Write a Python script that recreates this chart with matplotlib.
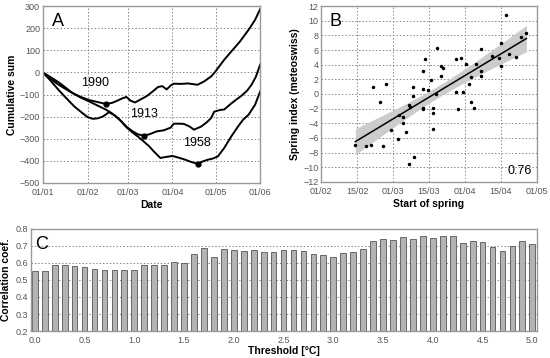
import numpy as np
import matplotlib
matplotlib.use('Agg')
import matplotlib.pyplot as plt

plt.rcParams['font.family'] = ['Liberation Sans', 'DejaVu Sans']

# ---- panel A: cumulative sums (day of year from 01/01)
d1990 = [0, 5, 11, 16, 20.5, 26, 32, 38, 44, 48, 51, 55, 58, 61, 64, 68, 72, 76, 80, 83, 86, 89, 91, 96, 101, 107.5, 112, 117, 120, 126, 131, 137, 143, 147.5, 151]
v1990 = [0, -28, -56, -76, -93, -110, -125, -134, -143, -138, -130, -118, -111, -128, -136, -122, -108, -88, -66, -62, -77, -58, -51, -52, -50, -56, -41, -18, 5, 57, 95, 140, 193, 238, 286]
d1913 = [0, 5, 11, 16, 20.5, 26, 32, 38, 44, 48, 53, 58, 62, 66, 70, 74, 79, 84, 88.7, 91, 95, 98, 102, 105, 110, 114, 117, 119, 123, 126, 131, 135, 138, 142, 145, 148, 151]
v1913 = [0, -20, -45, -70, -93, -113, -131, -150, -169, -185, -212, -245, -265, -280, -286, -280, -267, -262, -250, -232, -232, -233, -245, -259, -245, -225, -206, -178, -170, -168, -140, -120, -106, -82, -56, -20, 35]
d1958 = [0, 5, 11, 16, 22, 27.5, 31, 34.6, 38, 41.6, 46, 50, 54, 58, 62, 66, 70, 74, 77, 81.6, 86, 90, 94, 99, 103, 107.5, 111, 114.5, 118, 121.6, 126, 131, 135.7, 139, 143, 147.5, 151]
v1958 = [0, -35, -80, -115, -155, -184, -202, -210, -208, -200, -180, -195, -218, -248, -270, -290, -312, -335, -357, -387, -382, -378, -385, -395, -405, -413, -403, -395, -390, -380, -342, -289, -244, -215, -191, -146, -86]
min_days = [44, 70, 107.5]
min_vals = [-143, -286, -413]
years = ['1990', '1913', '1958']
year_pos = [(36, -50), (70, -190), (107, -320)]
a_ticks = [0, 31, 59, 90, 120, 151]
a_labels = ['01/01', '01/02', '01/03', '01/04', '01/05', '01/06']

# ---- panel B: start of spring (tick units, 01/02 = 0) vs spring index
b_x = [0.95, 1.24, 1.38, 1.44, 1.65, 1.73, 1.79, 1.93, 2.14, 2.17, 2.29, 2.29, 2.36, 2.43, 2.43, 2.48, 2.55, 2.55,
       2.57, 2.83, 2.84, 2.84, 2.84, 2.90, 2.97, 3.05, 3.11, 3.11, 3.11, 3.19, 3.21, 3.33, 3.40, 3.33, 3.74, 3.74,
       3.81, 3.90, 3.95, 4.02, 4.12, 4.17, 4.17, 4.24, 4.31, 4.45, 4.45, 4.45, 4.74, 4.94, 5.01, 5.01, 5.14, 5.22,
       5.43, 5.57, 5.71]
b_y = [-6.97, -7.15, -6.97, 1.0, -1.13, -7.1, 1.31, -4.93, -6.1, -2.9, -3.1, -3.94, -5.16, -1.5, -9.5, -1.76, 0.95, -0.3,
       -8.64, 3.12, 0.63, -1.95, -2.1, 4.8, 0.5, 1.86, -1.9, -2.58, -4.84, 0.0, 6.33, 3.85, 3.53, 2.4, 4.75, 0.32,
       -2.04, 4.89, 0.32, 4.12, 1.4, 2.3, -1.09, -1.95, 4.12, 6.15, 3.2, 2.4, 5.2, 4.98, 3.85, 7.0, 10.77, 5.48,
       5.11, 7.83, 8.28]
b_labels = ['01/02', '15/02', '01/03', '15/03', '01/04', '15/04', '01/05']
b_r = '0.76'

# ---- panel C: correlation vs threshold
thresh = np.round(np.arange(0, 5.01, 0.1), 1)
corr = [0.550, 0.550, 0.590, 0.590, 0.585, 0.578, 0.567, 0.560, 0.556, 0.560, 0.560,
        0.590, 0.590, 0.590, 0.605, 0.600, 0.655, 0.690, 0.637, 0.680, 0.675,
        0.670, 0.675, 0.665, 0.666, 0.674, 0.676, 0.668, 0.654, 0.646, 0.638,
        0.660, 0.662, 0.682, 0.728, 0.742, 0.736, 0.750, 0.740, 0.760, 0.748,
        0.756, 0.756, 0.720, 0.728, 0.726, 0.696, 0.672, 0.700, 0.728, 0.710]

tick_col = '#555555'
spine_col = '#999999'
grid_kw = dict(color='#888888', linestyle=(0, (1.5, 2)), linewidth=0.7)

fig = plt.figure(figsize=(5.5, 3.58), dpi=100)
axA = fig.add_axes([0.078, 0.489, 0.395, 0.494])
axB = fig.add_axes([0.584, 0.492, 0.392, 0.491])
axC = fig.add_axes([0.056, 0.0754, 0.920, 0.285])

for ax in (axA, axB, axC):
    for s in ax.spines.values():
        s.set_color(spine_col)
        s.set_linewidth(1.0)
    ax.tick_params(length=0, labelsize=6.5, labelcolor=tick_col, pad=2)
    ax.tick_params(axis='x', pad=3.5)
    ax.set_axisbelow(True)

# A
for d, v in [(d1990, v1990), (d1913, v1913), (d1958, v1958)]:
    axA.plot(d, v, color='black', lw=1.4)
axA.plot(min_days, min_vals, 'o', color='black', ms=3.5)
for t, (x, y) in zip(years, year_pos):
    axA.text(x, y, t, fontsize=9, ha='center', va='center')
axA.set_xlim(0, 151)
axA.set_ylim(-500, 300)
axA.set_xticks(a_ticks)
axA.set_xticklabels(a_labels)
axA.set_yticks(range(-500, 301, 100))
axA.grid(True, **grid_kw)
axA.set_xlabel('Date', fontsize=7.5, fontweight='bold', labelpad=2)
axA.set_ylabel('Cumulative sum', fontsize=7.5, fontweight='bold', labelpad=2)
axA.text(0.04, 0.96, 'A', transform=axA.transAxes, fontsize=13, va='top', ha='left')

# B
bx = np.array(b_x)
by = np.array(b_y)
slope, icpt = np.polyfit(bx, by, 1)
xs = np.linspace(bx.min(), bx.max(), 100)
n = len(bx)
resid = by - (slope * bx + icpt)
s = np.sqrt(np.sum(resid ** 2) / (n - 2))
se = s * np.sqrt(1 / n + (xs - bx.mean()) ** 2 / np.sum((bx - bx.mean()) ** 2))
fit = slope * xs + icpt
axB.fill_between(xs, fit - 2.0 * se, fit + 2.0 * se, color='#cccccc', lw=0)
axB.plot(xs, fit, color='black', lw=1.1)
axB.plot(bx, by, 'o', color='black', ms=1.5)
axB.set_xlim(0, 6)
axB.set_ylim(-12, 12)
axB.set_xticks(range(7))
axB.set_xticklabels(b_labels)
axB.set_yticks(range(-12, 13, 2))
axB.grid(True, **grid_kw)
axB.set_xlabel('Start of spring', fontsize=7.5, fontweight='bold', labelpad=2)
axB.set_ylabel('Spring index (meteoswiss)', fontsize=7.5, fontweight='bold', labelpad=2)
axB.text(0.04, 0.96, 'B', transform=axB.transAxes, fontsize=13, va='top', ha='left')
axB.text(0.975, 0.03, b_r, transform=axB.transAxes, fontsize=9, ha='right', va='bottom')

# C
axC.bar(thresh, corr, width=0.058, color='#b3b3b3', edgecolor='#555555', linewidth=0.6)
axC.set_xlim(-0.04, 5.045)
axC.set_ylim(0.2, 0.8)
axC.set_yticks(np.round(np.arange(0.2, 0.81, 0.1), 1))
axC.set_xticks(np.round(np.arange(0, 5.01, 0.5), 1))
axC.set_xticklabels(['%.1f' % t for t in np.arange(0, 5.01, 0.5)])
axC.yaxis.grid(True, **grid_kw)
axC.set_xlabel('Threshold [°C]', fontsize=7.5, fontweight='bold', labelpad=1)
axC.set_ylabel('Correlation coef.', fontsize=7.5, fontweight='bold', labelpad=3)
axC.text(0.008, 0.93, 'C', transform=axC.transAxes, fontsize=13, va='top', ha='left')

fig.savefig('out.png', dpi=100)
